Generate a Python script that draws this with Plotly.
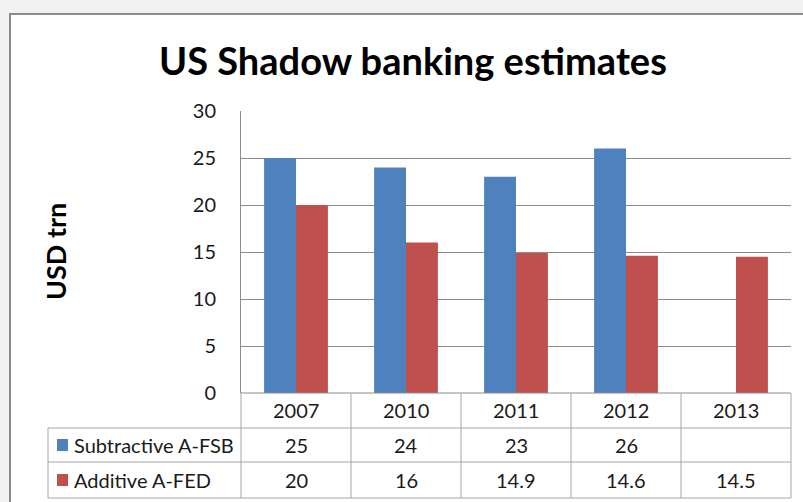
import plotly.graph_objects as go

# Chart data
years = ["2007", "2010", "2011", "2012", "2013"]
subtractive_fsb = [25, 24, 23, 26, None]
additive_fed = [20, 16, 14.9, 14.6, 14.5]
series_names = ["Subtractive A-FSB", "Additive A-FED"]
series_colors = ["#4f81bd", "#c0504d"]
y_ticks = [0, 5, 10, 15, 20, 25, 30]

W, H = 803, 502
L, R, T, B = 241, 12, 111, 109          # plot area: x 241..791, y 111..393
PW, PH = W - L - R, H - T - B


def px(x):
    return (x - L) / PW


def py(y):
    return (H - B - y) / PH


FONT = "Lato, 'Open Sans', sans-serif"
GRID = "#8c8c8c"
TABLE = "#a6a6a6"
TXT = "#1a1a1a"

fig = go.Figure()
for name, vals, col in zip(series_names, [subtractive_fsb, additive_fed], series_colors):
    fig.add_trace(go.Bar(x=years, y=vals, name=name, marker=dict(color=col, line=dict(width=0)),
                         showlegend=False))

shapes = []
# chart frame
shapes.append(dict(type="rect", xref="paper", yref="paper", x0=px(10), x1=px(830), y0=py(14), y1=py(540),
                   line=dict(color="#8c8c8c", width=2), fillcolor="white", layer="below"))

# data table grid
row_y = [393, 428, 462, 498]
for i, yy in enumerate(row_y):
    x0 = 241 if i == 0 else 48
    shapes.append(dict(type="line", xref="paper", yref="paper", x0=px(x0), x1=px(791), y0=py(yy), y1=py(yy),
                       line=dict(color=TABLE if i else GRID, width=1)))
col_x = [241 + 110 * k for k in range(len(years) + 1)]
for xx in col_x:
    shapes.append(dict(type="line", xref="paper", yref="paper", x0=px(xx), x1=px(xx), y0=py(393), y1=py(498),
                       line=dict(color=TABLE, width=1)))
shapes.append(dict(type="line", xref="paper", yref="paper", x0=px(48), x1=px(48), y0=py(428), y1=py(498),
                   line=dict(color=TABLE, width=1)))

# legend keys in the table
for k, col in enumerate(series_colors):
    yc = (row_y[k + 1] + row_y[k + 2]) / 2
    shapes.append(dict(type="rect", xref="paper", yref="paper", x0=px(57), x1=px(68),
                       y0=py(yc - 6), y1=py(yc + 6), fillcolor=col, line=dict(width=0)))

annotations = []
annotations.append(dict(text="<b>US Shadow banking estimates</b>", xref="paper", yref="paper",
                        x=px(413), y=py(60), showarrow=False, xanchor="center", yanchor="middle",
                        font=dict(family=FONT, size=38, color="black")))
annotations.append(dict(text="<b>USD trn</b>", xref="paper", yref="paper", x=px(55), y=py(252),
                        textangle=-90, showarrow=False, xanchor="center", yanchor="middle",
                        font=dict(family=FONT, size=27, color="black")))

# category header row (category index positions on the x axis)
for i, yr in enumerate(years):
    annotations.append(dict(text=yr, xref="x", yref="paper", x=i, y=py(410), showarrow=False,
                            xanchor="center", yanchor="middle", font=dict(family=FONT, size=20, color=TXT)))

# value rows
for k, (name, vals) in enumerate(zip(series_names, [subtractive_fsb, additive_fed])):
    yc = (row_y[k + 1] + row_y[k + 2]) / 2
    annotations.append(dict(text=name, xref="paper", yref="paper", x=px(72), y=py(yc), showarrow=False,
                            xanchor="left", yanchor="middle", font=dict(family=FONT, size=20, color=TXT)))
    for i, v in enumerate(vals):
        if v is None:
            continue
        annotations.append(dict(text=f"{v:g}", xref="x", yref="paper", x=i, y=py(yc), showarrow=False,
                                xanchor="center", yanchor="middle",
                                font=dict(family=FONT, size=20, color=TXT)))

fig.update_layout(
    width=W, height=H,
    margin=dict(l=L, r=R, t=T, b=B, autoexpand=False),
    paper_bgcolor="#f2f2f2", plot_bgcolor="white",
    barmode="group", bargap=0.42, bargroupgap=0,
    shapes=shapes, annotations=annotations,
    xaxis=dict(type="category", categoryorder="array", categoryarray=years, range=[-0.5, len(years) - 0.5],
               showticklabels=False, showgrid=False, zeroline=False, showline=False, ticks=""),
    yaxis=dict(range=[0, 30], tickvals=y_ticks, showgrid=True, gridcolor=GRID, gridwidth=1,
               zeroline=False, showline=True, linecolor=GRID, linewidth=1, ticks="",
               ticklabelstandoff=20, tickfont=dict(family=FONT, size=20, color=TXT)),
)

fig.write_html("out.html")
